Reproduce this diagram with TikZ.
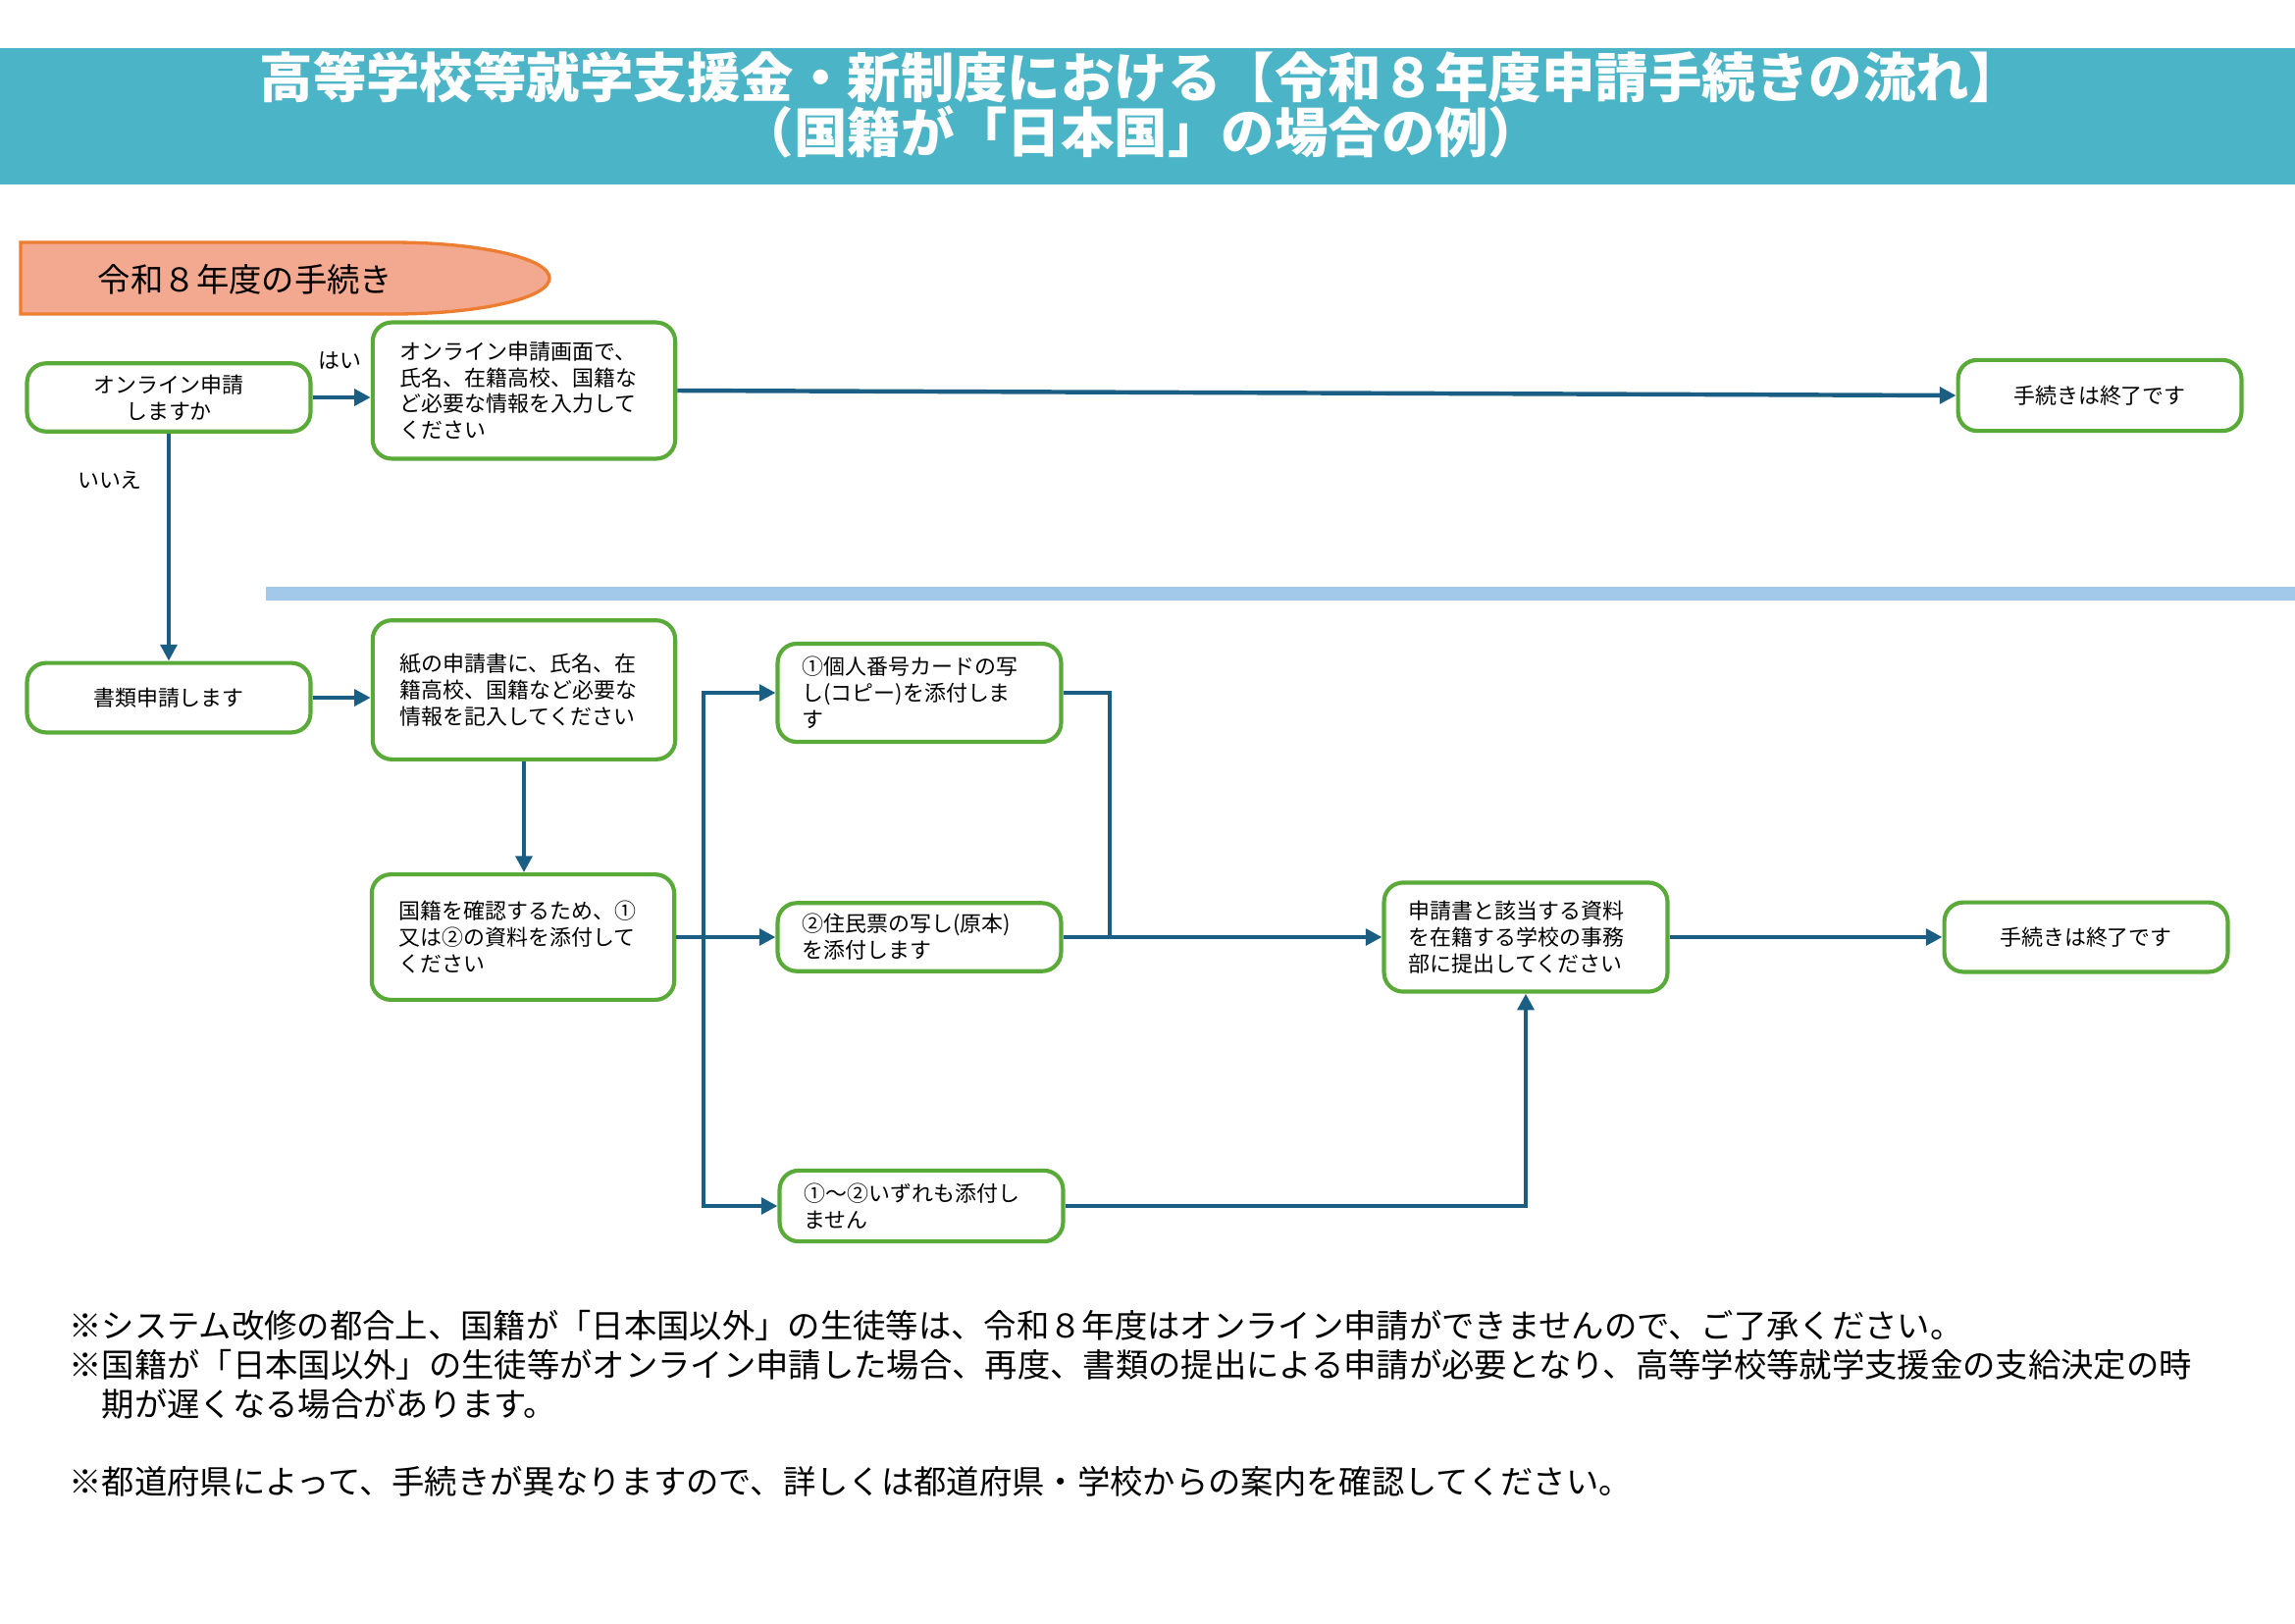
\documentclass[tikz,border=0pt]{standalone}
\usepackage{fontspec}
\setmainfont{Noto Sans CJK JP}
\usetikzlibrary{
    arrows.meta,
    positioning,
    calc
}

\tikzset{
  stepbox/.style={draw=boxcolor, line width=1.5bp, rounded corners=7bp, fill=white,
    font=\fontsize{7.9bp}{9.7bp}\selectfont, inner ysep=2bp},
  widebox/.style={stepbox, text width=91bp, inner xsep=10bp, align=left},
  narrowbox/.style={stepbox, text width=86bp, inner xsep=9bp, align=left},
  askbox/.style={stepbox, minimum width=104bp, align=center},
  flow/.style={draw=arrowcolor, line width=1.6bp, -{Triangle[length=6bp,width=6bp]}},
  link/.style={draw=arrowcolor, line width=1.6bp},
  flowtag/.style={font=\fontsize{7.9bp}{9.7bp}\selectfont}
}

\begin{document}
\begin{tikzpicture}[x=0.36bp,y=-0.36bp]
            \definecolor{headcolor}{HTML}{4BB4C6}
            \definecolor{boxcolor}{HTML}{5AAA3A}
            \definecolor{arrowcolor}{HTML}{1B5E84}
            \definecolor{rulecolor}{HTML}{A2C8EA}
            \definecolor{bannerfill}{HTML}{F3A98F}
            \definecolor{bannerline}{HTML}{ED7D31}
            \useasboundingbox (0,0) rectangle (2339,1654);
            \fill[white] (0,0) rectangle (2339,1654);
            % header
            \fill[headcolor] (0,49) rectangle (2339,188);
            \node[text=white, align=center, font=\bfseries\fontsize{19.6bp}{17.6bp}\selectfont]
                (title) at (1163,107) {高等学校等就学支援金・新制度における【令和８年度申請手続きの流れ】\\（国籍が「日本国」の場合の例）};
            % banner
            \filldraw[fill=bannerfill, draw=bannerline, line width=1.2bp]
                (21,247) -- (400,247) .. controls (488,247) and (560,263) .. (560,283.5)
                .. controls (560,304) and (488,320) .. (400,320) -- (21,320) -- cycle;
            \node[font=\fontsize{12bp}{14bp}\selectfont] (year) at (250,285) {令和８年度の手続き};
            % online route
            \node[askbox, minimum height=25bp] (ask) at (172,405) {オンライン申請\\しますか};
            \node[widebox, minimum height=50bp] (online) at (534,398)
                {オンライン申請画面で、\\氏名、在籍高校、国籍な\\ど必要な情報を入力して\\ください};
            \node[askbox, minimum height=26bp] (endA) at (2140,403) {手続きは終了です};
            \draw[flow] (ask.east) -- (ask.east -| online.west);
            \node[flowtag] (yes) at (346,367) {はい};
            \draw[flow] (online.east) -- (endA.west);
            % separator
            \draw[rulecolor, line width=5bp] (271,605) -- (2339,605);
            % paper route
            \node[askbox, minimum height=25.5bp] (paper) at (172,711) {書類申請します};
            \node[widebox, minimum height=51bp] (form) at (534,703)
                {紙の申請書に、氏名、在\\籍高校、国籍など必要な\\情報を記入してください};
            \node[widebox, minimum height=46bp] (check) at (533,955)
                {国籍を確認するため、①\\又は②の資料を添付して\\ください};
            \node[narrowbox, minimum height=36bp] (card) at (937,706)
                {①個人番号カードの写\\し(コピー)を添付しま\\す};
            \node[narrowbox, minimum height=25bp] (resident) at (937,955)
                {②住民票の写し(原本)\\を添付します};
            \node[narrowbox, minimum height=26bp] (noattach) at (939,1229)
                {①～②いずれも添付し\\ません};
            \node[narrowbox, minimum height=40bp] (submit) at (1555,955)
                {申請書と該当する資料\\を在籍する学校の事務\\部に提出してください};
            \node[askbox, minimum height=25.5bp] (endB) at (2126,955) {手続きは終了です};
            \draw[flow] (ask.south) -- (paper.north);
            \node[flowtag] (no) at (112,489) {いいえ};
            \draw[flow] (paper.east) -- (paper.east -| form.west);
            \draw[flow] (form.south) -- (form.south |- check.north);
            \coordinate (split) at (717,955);
            \coordinate (merge) at (1131,955);
            \draw[flow] (check.east) -- (resident.west);
            \draw[flow] (split) |- (card.west);
            \draw[flow] (split) |- (noattach.west);
            \draw[link] (card.east) -| (merge);
            \draw[flow] (resident.east) -- (submit.west);
            \draw[flow] (noattach.east) -| (submit.south);
            \draw[flow] (submit.east) -- (endB.west);
            % notes
            \node[anchor=north west, align=left, inner sep=0pt, font=\fontsize{12bp}{14.3bp}\selectfont] (notes) at (70,1335)
                {※システム改修の都合上、国籍が「日本国以外」の生徒等は、令和８年度はオンライン申請ができませんので、ご了承ください。\\
                 ※国籍が「日本国以外」の生徒等がオンライン申請した場合、再度、書類の提出による申請が必要となり、高等学校等就学支援金の支給決定の時\\
                 \phantom{※}期が遅くなる場合があります。\\[14.3bp]
                 ※都道府県によって、手続きが異なりますので、詳しくは都道府県・学校からの案内を確認してください。};
        \end{tikzpicture}
\end{document}
